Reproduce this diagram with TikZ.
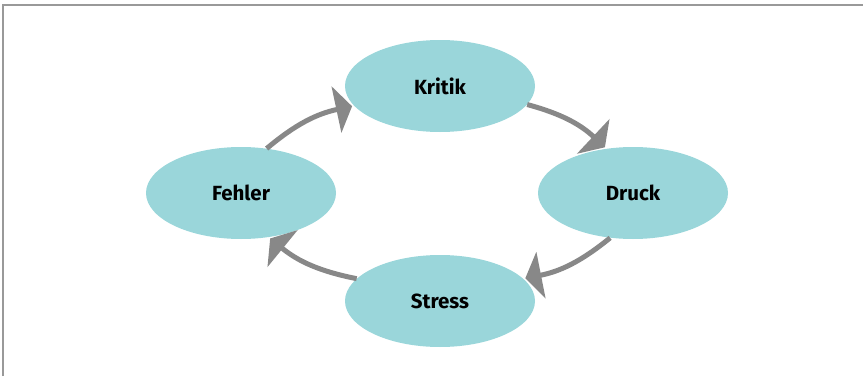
\documentclass[tikz,border=0pt]{standalone}
\usepackage{fontspec}
\setmainfont{Fira Sans}
\usetikzlibrary{shapes.geometric,arrows.meta}
\definecolor{bubblecol}{HTML}{9AD6DA}
\definecolor{arrowcol}{HTML}{888888}
\definecolor{framecol}{HTML}{999999}

\begin{document}
\begin{tikzpicture}[x=1pt,y=1pt,
    bubble/.style={ellipse,fill=bubblecol,minimum width=190pt,minimum height=92pt,inner sep=0pt,
      font=\fontsize{20.5}{24}\selectfont\bfseries},
    flow/.style={draw=arrowcol,line width=5pt,-{Triangle[length=16pt,width=47pt]},shorten >=2pt}]
              \useasboundingbox (0,0) rectangle (863,376);
              \draw[framecol,line width=2pt] (3,0) -- (3,370.5) -- (863,370.5);
              \node[bubble](kritik)at(440,290){Kritik};
              \node[bubble](fehler)at(241,183){Fehler};
              \node[bubble](druck)at(633,183){Druck};
              \node[bubble](stress)at(440,75){Stress};
              \draw[flow] (fehler.60) to[bend left=14] (kritik.193);
              \draw[flow] (kritik.-12) to[bend left=14] (druck.121);
              \draw[flow] (druck.243) to[bend left=14] (stress.15);
              \draw[flow] (stress.165) to[bend left=14] (fehler.-58);
            \end{tikzpicture}
\end{document}
